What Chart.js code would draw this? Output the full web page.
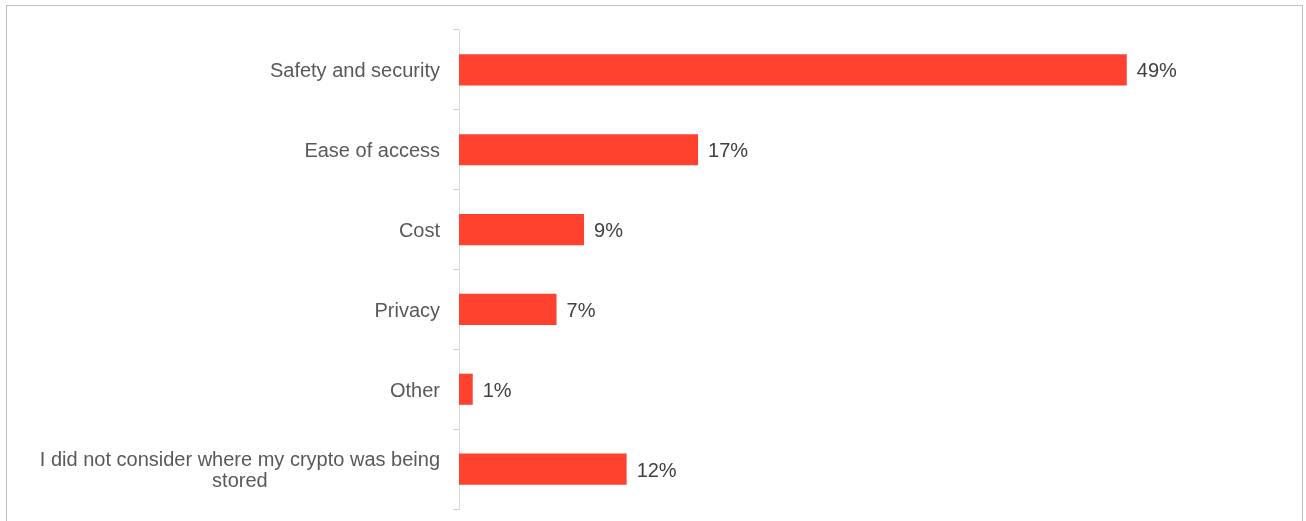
<!DOCTYPE html>
<html>
<head>
<meta charset="utf-8">
<script src="https://cdn.jsdelivr.net/npm/chart.js@4.4.0/dist/chart.umd.min.js"></script>
<style>
  html, body { margin: 0; padding: 0; background: #fff; overflow: hidden; }
  #frame { position: absolute; left: 6px; top: 5px; width: 1295px; height: 530px; border: 1px solid #c0c0c0; }
  #wrap { position: absolute; left: 0; top: 0; width: 1295px; height: 516px; }
</style>
</head>
<body>
<div id="frame"><div id="wrap"><canvas id="storageBar"></canvas></div></div>
<script>
// categories (multi-line label as array)
const categories = [
  "Safety and security",
  "Ease of access",
  "Cost",
  "Privacy",
  "Other",
  ["I did not consider where my crypto was being", "stored"]
];
// share of respondents, %
const shares = [48.6, 17.4, 9.1, 7.1, 1.0, 12.2];

const FONT = '20px "Liberation Sans", Arial, sans-serif';

// draws category labels (right block, centred lines) and value labels
const labelPlugin = {
  id: "barLabels",
  afterDatasetsDraw: (chart) => {
    const ctx = chart.ctx;
    const yScale = chart.scales.y;
    const meta = chart.getDatasetMeta(0);
    ctx.save();
    ctx.font = FONT;
    ctx.textBaseline = "middle";

    categories.forEach((cat, i) => {
      const lines = Array.isArray(cat) ? cat : [cat];
      const yc = yScale.getPixelForValue(i) + 2;
      const widest = Math.max(...lines.map(l => ctx.measureText(l).width));
      const cx = yScale.right - 19 - widest / 2;
      const lh = 21.5;
      ctx.fillStyle = "#595959";
      ctx.textAlign = "center";
      lines.forEach((l, k) => {
        ctx.fillText(l, cx, yc - (lines.length - 1) * lh / 2 + k * lh);
      });
    });

    ctx.fillStyle = "#404040";
    ctx.textAlign = "left";
    meta.data.forEach((bar, i) => {
      ctx.fillText(Math.round(shares[i]) + "%", bar.x + 10, bar.y + 2);
    });
    ctx.restore();
  }
};

new Chart(document.getElementById("storageBar").getContext("2d"), {
  type: "bar",
  data: {
    labels: categories,
    datasets: [{
      data: shares,
      backgroundColor: "#FF4230",
      borderWidth: 0,
      categoryPercentage: 1,
      barPercentage: 0.39
    }]
  },
  options: {
    indexAxis: "y",
    responsive: true,
    maintainAspectRatio: false,
    animation: false,
    layout: { padding: { top: 24, bottom: 13, left: 0, right: 156 } },
    plugins: {
      legend: { display: false },
      tooltip: { enabled: false }
    },
    scales: {
      x: { display: false, min: 0, max: 50 },
      y: {
        afterFit: (scale) => { scale.width = 452; },
        ticks: { display: false },
        grid: { drawOnChartArea: false, drawTicks: true, tickLength: 6, color: "#d0d0d0", offset: true },
        border: { display: true, color: "#d9d9d9", width: 1 }
      }
    }
  },
  plugins: [labelPlugin]
});
</script>
</body>
</html>
